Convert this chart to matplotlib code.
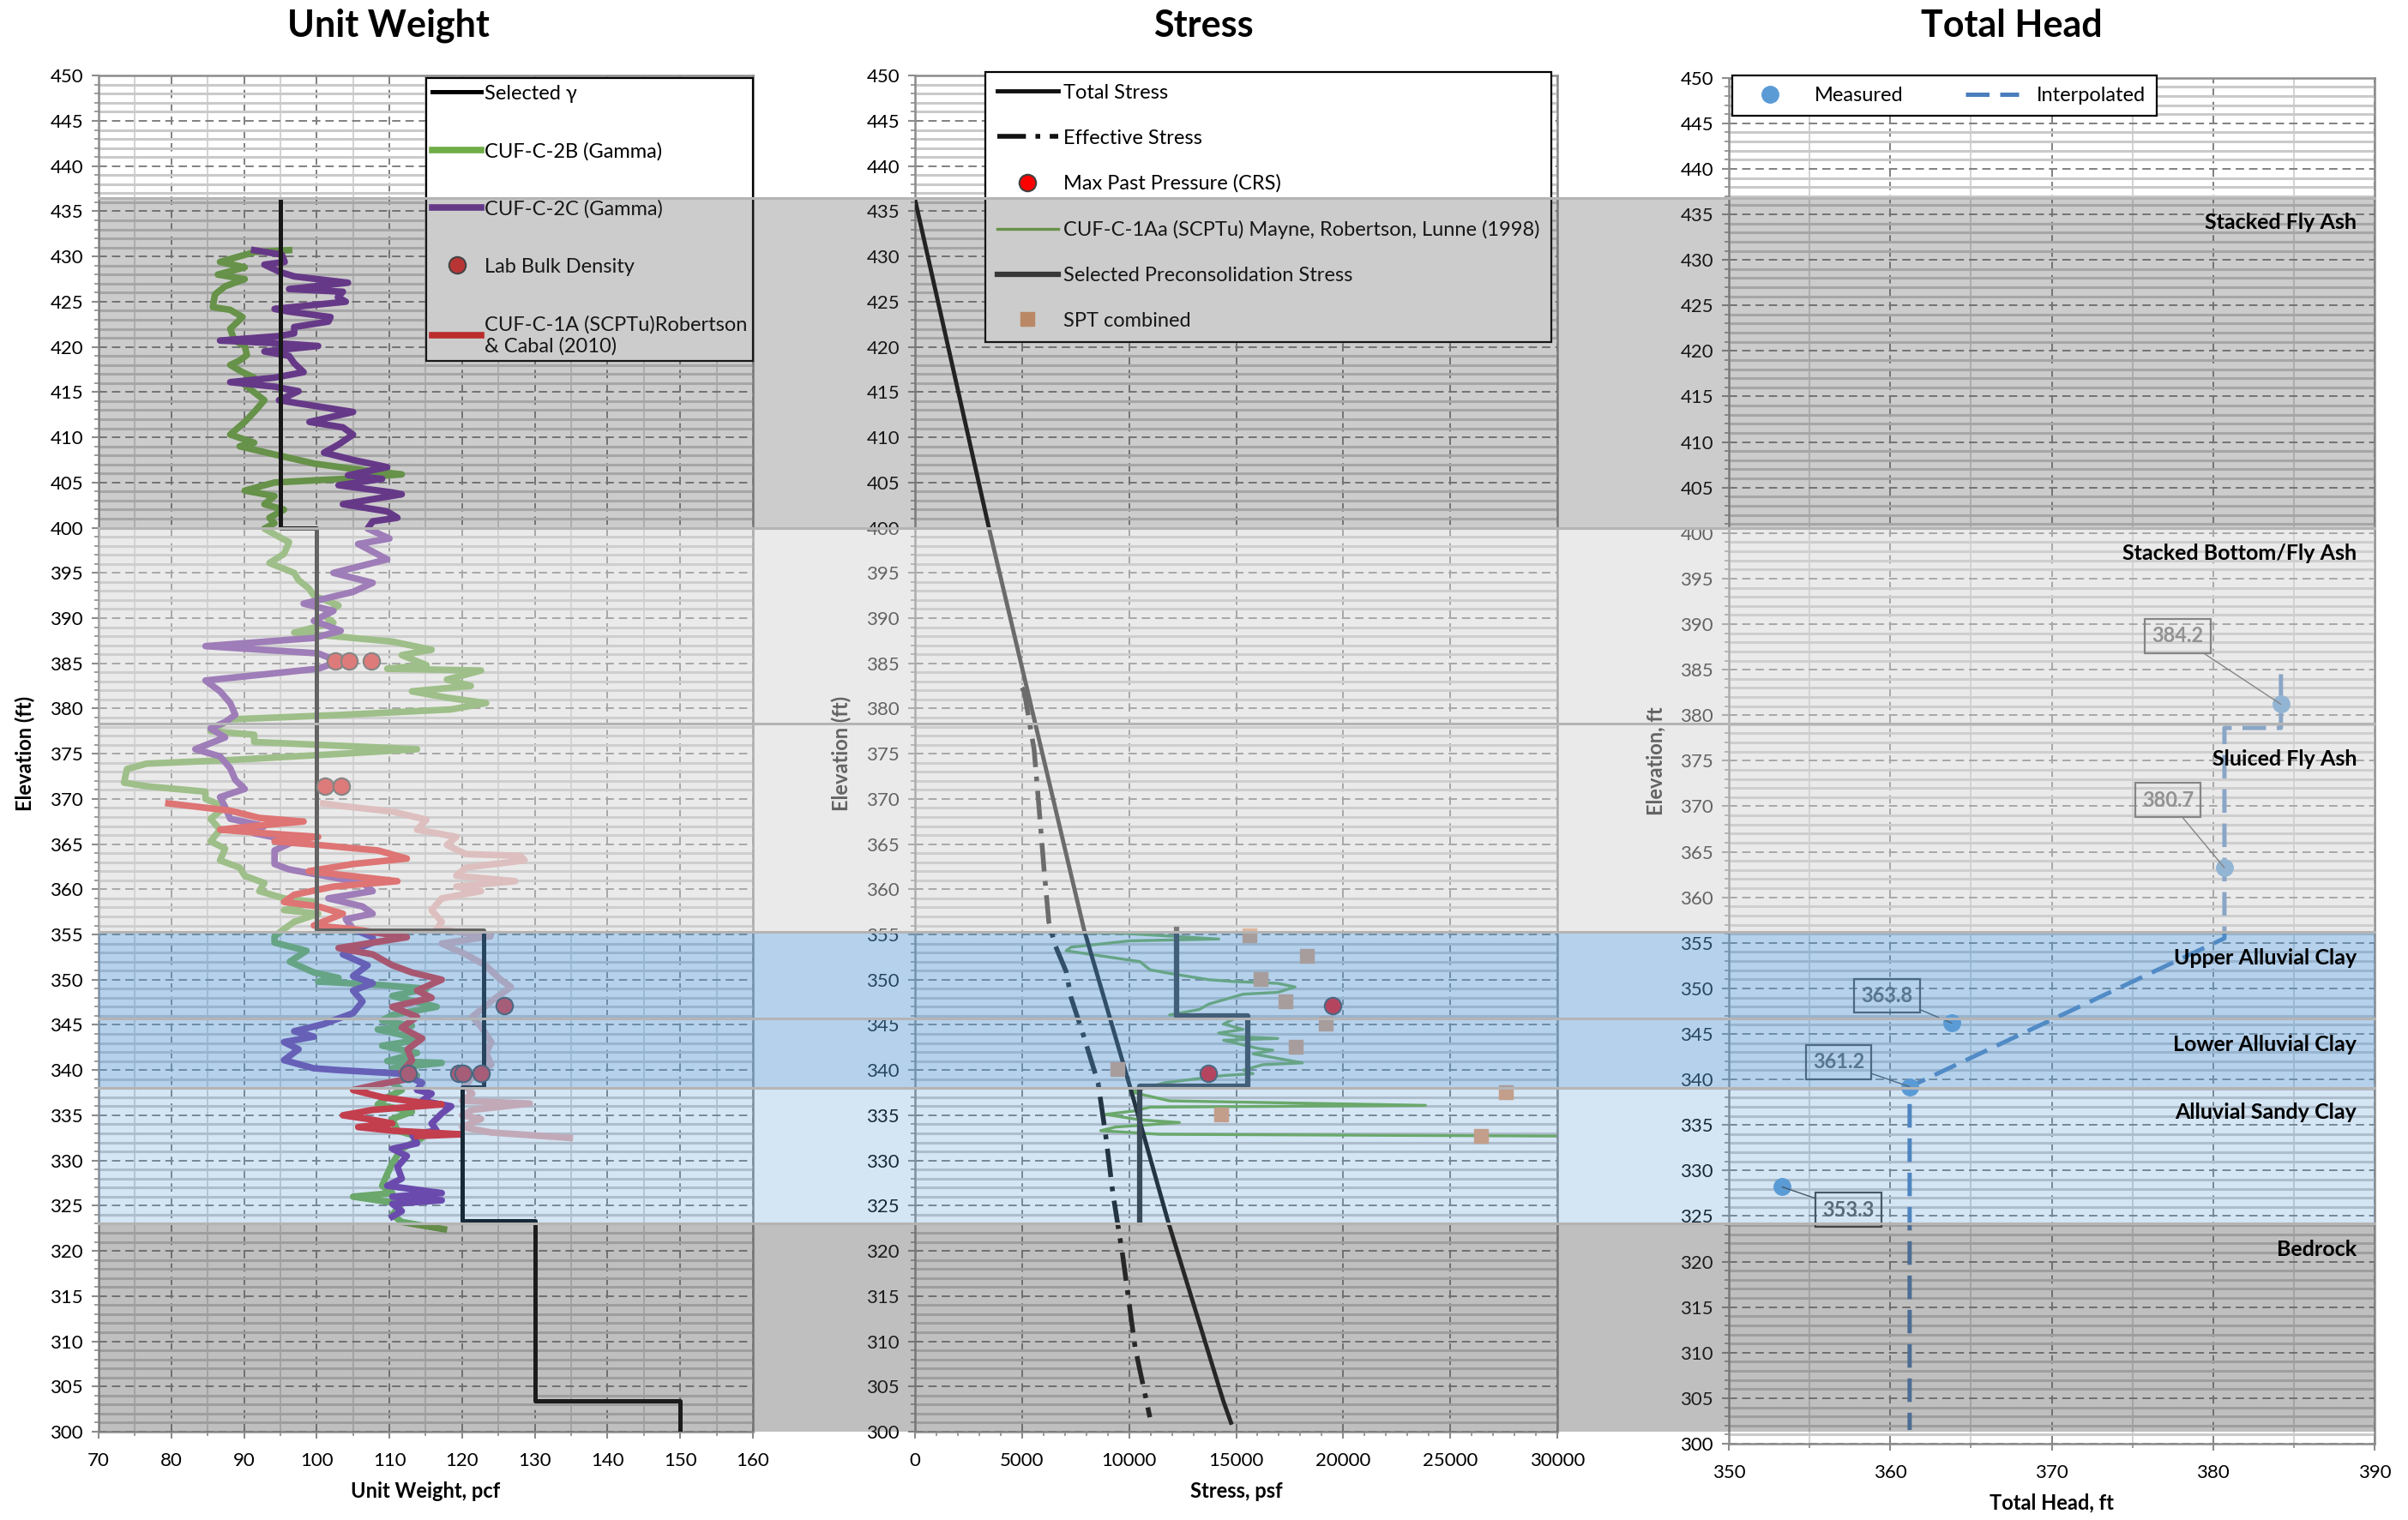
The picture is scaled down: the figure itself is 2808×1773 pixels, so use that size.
import matplotlib
matplotlib.use("Agg")
import matplotlib.pyplot as plt
import matplotlib.transforms as mtransforms
from matplotlib.patches import Rectangle
from matplotlib.lines import Line2D
from matplotlib.ticker import MultipleLocator

plt.rcParams['font.family'] = ['Lato', 'DejaVu Sans']

# %% data -------------------------------------------------------------------

### unit weight profiles (elevation ft, unit weight pcf)
g2b_elev = [430.7, 430.5, 429.4, 428.8, 428.0, 427.5, 426.7, 425.8, 424.4, 424.1, 423.3, 422.0,
            420.7, 420.1, 419.1, 418.5, 418.0, 417.2, 416.6, 415.8, 414.1, 412.8, 411.7, 410.3,
            409.4, 409.0, 408.1, 407.1, 406.5, 405.9, 405.4, 405.0, 404.1, 403.5, 402.6, 402.0,
            401.1, 400.5, 399.9, 399.0, 398.4, 397.1, 396.1, 395.0, 394.2, 393.3, 392.5, 391.4,
            390.3, 389.5, 388.4, 388.0, 387.4, 386.5, 385.9, 384.8, 384.4, 384.2, 383.2, 382.5,
            381.9, 381.2, 380.6, 379.9, 379.3, 378.8, 377.5, 377.1, 376.3, 375.5, 375.0, 374.3,
            373.9, 373.3, 371.8, 371.4, 370.8, 370.0, 369.1, 367.8, 366.6, 365.3, 364.5, 363.2,
            362.4, 361.5, 361.1, 360.7, 359.8, 359.0, 358.6, 357.7, 357.3, 356.4, 355.6, 354.8,
            354.1, 353.2, 352.0, 350.8, 350.2, 349.8, 349.4, 349.0, 348.2, 347.0, 346.1, 345.5,
            344.9, 344.5, 343.9, 343.3, 342.7, 341.9, 341.0, 340.8, 340.2, 339.4, 338.6, 337.8,
            337.0, 336.2, 335.4, 334.6, 333.3, 332.5, 331.3, 329.7, 328.5, 327.2, 326.4, 326.0,
            325.6, 325.2, 324.0, 323.2, 322.4]
g2b_pcf = [96.2, 91.5, 86.7, 90.1, 86.4, 90.1, 87.4, 86.0, 85.7, 88.1, 89.8, 88.1,
           88.7, 90.1, 90.4, 89.4, 88.1, 89.8, 91.4, 90.1, 92.8, 91.4, 90.1, 88.1,
           91.4, 89.4, 94.2, 99.6, 105.0, 111.7, 103.6, 94.2, 90.1, 94.2, 92.8, 95.5,
           93.5, 94.2, 92.8, 94.8, 96.2, 95.5, 93.5, 96.9, 97.5, 98.9, 99.6, 103.0,
           101.0, 102.3, 96.9, 102.3, 110.4, 115.8, 111.7, 115.1, 109.7, 122.6, 117.9, 121.2,
           113.1, 117.9, 123.3, 118.5, 103.6, 88.1, 85.4, 91.4, 91.4, 113.8, 103.6, 88.1,
           76.6, 73.9, 73.5, 76.6, 84.7, 84.7, 87.4, 85.4, 86.7, 85.4, 87.4, 86.7,
           89.4, 90.1, 91.4, 92.8, 92.1, 95.5, 99.6, 95.5, 100.2, 96.9, 95.5, 94.2,
           94.2, 98.6, 96.3, 99.6, 103.0, 100.2, 109.0, 115.1, 110.4, 116.5, 110.4, 109.0,
           113.1, 108.4, 111.7, 113.8, 109.0, 113.8, 109.7, 117.2, 110.4, 113.8, 110.4, 111.7,
           109.7, 108.4, 113.1, 110.4, 111.1, 114.5, 111.7, 110.4, 109.7, 109.0, 110.4, 105.0,
           108.4, 111.7, 110.4, 111.7, 117.5]

g2c_elev = [430.7, 430.2, 429.4, 429.1, 428.3, 427.8, 427.1, 426.4, 426.1, 425.5, 425.0, 424.2,
            423.9, 423.3, 422.8, 422.2, 421.5, 421.2, 420.7, 420.4, 420.1, 419.5, 419.0, 418.2,
            417.2, 416.6, 416.1, 415.6, 415.1, 414.1, 412.8, 411.7, 411.1, 410.3, 409.2, 408.3,
            407.5, 406.7, 405.8, 405.4, 404.7, 403.9, 403.7, 402.6, 401.8, 401.1, 400.7, 399.9,
            398.8, 398.2, 396.5, 395.0, 393.9, 392.9, 391.6, 390.8, 389.7, 388.6, 387.8, 386.9,
            386.1, 385.2, 384.4, 383.1, 381.9, 380.6, 379.3, 378.5, 377.8, 376.8, 375.5, 374.7,
            373.4, 372.1, 371.1, 370.2, 369.1, 367.8, 367.0, 366.2, 365.3, 364.3, 362.8, 362.2,
            361.5, 360.7, 359.8, 359.0, 358.1, 357.3, 356.7, 355.6, 354.7, 354.1, 352.8, 351.6,
            350.4, 349.6, 348.8, 347.6, 346.3, 345.5, 345.1, 344.3, 343.7, 343.1, 342.3, 341.1,
            340.2, 340.0, 339.6, 338.6, 337.8, 337.4, 336.6, 336.0, 335.2, 334.1, 333.3, 332.9,
            331.9, 331.3, 330.5, 329.3, 328.0, 327.2, 326.4, 326.0, 325.6, 325.2, 324.4, 323.8]
g2c_pcf = [91.4, 95.2, 95.6, 92.8, 94.9, 96.9, 104.3, 96.2, 103.6, 102.9, 104.0, 94.2,
           96.2, 101.9, 101.6, 96.9, 96.9, 94.8, 86.7, 94.8, 100.2, 92.8, 96.2, 96.9,
           98.2, 94.2, 88.1, 94.2, 97.5, 94.8, 105.0, 99.0, 103.6, 105.0, 103.0, 101.0,
           105.0, 109.7, 104.3, 109.0, 103.0, 110.4, 111.7, 103.6, 109.7, 111.1, 107.7, 107.0,
           110.0, 105.7, 109.7, 102.3, 107.7, 105.0, 98.2, 102.3, 99.6, 103.3, 99.6, 84.7,
           100.2, 103.0, 100.2, 84.7, 86.7, 88.1, 88.8, 87.4, 85.4, 87.4, 83.3, 86.7,
           88.1, 88.8, 90.1, 86.7, 87.4, 88.1, 92.8, 91.4, 96.9, 94.2, 94.2, 96.2,
           101.0, 106.3, 107.7, 101.6, 106.3, 107.7, 104.0, 105.0, 107.7, 107.7, 103.6, 107.0,
           105.0, 107.7, 105.0, 106.3, 105.0, 102.3, 101.0, 96.9, 99.6, 95.5, 97.5, 95.5,
           99.6, 103.0, 111.7, 114.5, 113.8, 115.8, 114.5, 118.5, 117.2, 115.8, 116.5, 113.1,
           113.8, 110.4, 112.4, 111.1, 111.7, 109.7, 117.2, 110.4, 117.2, 110.4, 111.7, 110.4]

rc_elev = [369.5, 368.7, 367.9, 367.5, 367.0, 366.6, 366.2, 365.8, 365.3, 364.9, 364.3, 363.4,
           362.8, 362.0, 360.9, 360.3, 359.4, 358.6, 358.1, 357.3, 356.0, 355.6, 354.7, 353.5,
           352.8, 351.6, 350.8, 350.0, 348.8, 348.0, 347.0, 345.9, 344.7, 343.5, 342.3, 341.1,
           339.8, 339.0, 338.4, 337.8, 337.0, 336.4, 336.2, 335.6, 335.0, 334.6, 334.1, 333.7,
           333.3, 332.9, 332.7]
rc_pcf = [79.6, 88.1, 92.1, 98.2, 91.4, 86.7, 92.8, 100.2, 94.2, 100.2, 108.4, 112.4,
          105.0, 98.9, 111.1, 102.3, 96.9, 95.5, 100.2, 103.6, 99.6, 105.0, 112.4, 103.0,
          107.7, 110.4, 113.1, 117.2, 113.8, 115.8, 110.4, 113.8, 111.7, 114.5, 112.5, 113.1,
          111.7, 112.4, 108.4, 105.0, 109.0, 114.5, 117.2, 107.7, 103.6, 107.0, 110.4, 105.7,
          110.4, 119.9, 113.8]

alt_elev = [369.5, 369.2, 368.6, 367.7, 366.6, 365.8, 364.9, 363.9, 363.7, 363.2, 362.4, 361.5,
            360.9, 360.3, 359.8, 359.0, 357.7, 356.4, 355.6, 354.8, 354.0, 352.8, 351.6, 350.0,
            349.2, 347.6, 345.9, 344.7, 343.1, 341.9, 340.6, 339.4, 338.2, 337.4, 336.6, 336.3,
            335.6, 335.0, 334.6, 333.7, 333.1, 332.5]
alt_pcf = [100.9, 103.6, 110.4, 115.1, 113.8, 119.2, 117.9, 120.5, 128.0, 128.6, 120.5, 119.2,
           127.3, 119.2, 122.6, 117.2, 115.8, 117.2, 116.5, 123.9, 117.2, 120.5, 123.2, 125.3,
           126.7, 124.0, 121.4, 122.7, 124.0, 123.3, 124.0, 121.4, 120.5, 121.4, 120.0, 129.3,
           121.4, 120.0, 122.6, 120.0, 124.0, 134.8]

sel_gamma_elev = [436.3, 400.0, 400.0, 355.5, 355.5, 338.1, 338.1, 323.3, 323.3, 303.4, 303.4, 300.0]
sel_gamma_pcf = [95, 95, 100, 100, 123, 123, 120, 120, 130, 130, 150, 150]

lab_elev = [385.3, 385.3, 385.3, 371.4, 371.4, 347.1, 339.6, 339.6, 339.6, 339.6]
lab_pcf = [102.6, 104.5, 107.5, 101.1, 103.4, 125.8, 112.6, 119.5, 120.1, 122.6]

### stress profiles (psf)
tot_elev = [436.3, 400.0, 355.5, 338.1, 323.3, 303.4, 301.0]
tot_psf = [0, 3450, 7900, 10050, 11815, 14400, 14760]

eff_elev = [382.3, 381.9, 375.5, 369.1, 362.4, 356.4, 353.9, 350.9, 348.0, 343.9, 338.6, 332.9,
            326.4, 319.5, 309.3, 301.6]
eff_psf = [4990, 5100, 5560, 5790, 6020, 6250, 6530, 7060, 7290, 7860, 8550, 8900,
           9240, 9700, 10280, 10970]

crs_elev = [347.1, 339.6]
crs_psf = [19500, 13700]

scptu_elev = [355.25, 355.15, 354.5, 354.3, 353.6, 353.2, 352.8, 352.0, 351.1, 350.7, 350.0, 349.8,
              349.6, 349.2, 348.6, 348.4, 347.3, 346.7, 346.1, 345.9, 345.1, 344.5, 344.1, 343.7,
              343.5, 343.3, 342.4, 342.2, 341.8, 340.8, 340.6, 340.0, 339.6, 339.4, 338.6, 338.0,
              337.6, 336.6, 336.1, 335.9, 335.5, 335.1, 334.5, 334.2, 333.7, 333.3, 332.9, 332.7]
scptu_psf = [6830, 9590, 14190, 10050, 7290, 7060, 8210, 10510, 10970, 11890, 13720, 14870,
             16940, 17750, 16940, 15330, 13720, 13270, 11890, 15100, 14410, 15330, 14180, 15100,
             16940, 14410, 16020, 16710, 15790, 18090, 16250, 15330, 15790, 14410, 11660, 10740,
             10050, 11890, 23840, 10970, 10280, 8900, 10510, 12350, 9360, 8670, 11430, 30500]

pc_elev = [355.6, 346.0, 346.0, 338.2, 338.2, 323.1]
pc_psf = [12200, 12200, 15550, 15550, 10500, 10500]

spt_elev = [354.9, 352.6, 350.1, 347.6, 345.1, 342.6, 340.1, 337.6, 335.1, 332.7]
spt_psf = [15630, 18300, 16140, 17290, 19200, 17790, 9470, 27590, 14300, 26420]

### total head (ft)
meas_elev = [381.2, 363.25, 346.2, 339.2, 328.2]
meas_head = [384.2, 380.7, 363.8, 361.2, 353.3]
interp_elev = [384.5, 378.6, 378.6, 355.5, 339.2, 301.5]
interp_head = [384.2, 384.2, 380.7, 380.7, 361.2, 361.2]

### stratigraphy
layer_names = ["Stacked Fly Ash", "Stacked Bottom/Fly Ash", "Sluiced Fly Ash",
               "Upper Alluvial Clay", "Lower Alluvial Clay", "Alluvial Sandy Clay", "Bedrock"]
layer_top = [436.5, 400.0, 378.3, 355.3, 345.7, 338.0, 323.0]
layer_bot = [400.0, 378.3, 355.3, 345.7, 338.0, 323.0, 300.0]

# %% figure ----------------------------------------------------------------
fig = plt.figure(figsize=(28.08, 17.73), dpi=100)
ax1 = fig.add_axes([0.04095, 0.05809, 0.27173, 0.89211])
ax2 = fig.add_axes([0.37999, 0.05809, 0.26673, 0.89211])
ax3 = fig.add_axes([0.71795, 0.05020, 0.26816, 0.89864])

GRID_DASH = (0, (5, 3))
LEG_FS = 17


def style_axes(ax, xlim, xmaj, xmin, xgrid_minor=True):
    ax.set_xlim(*xlim)
    ax.set_ylim(300, 450)
    ax.yaxis.set_major_locator(MultipleLocator(5))
    ax.yaxis.set_minor_locator(MultipleLocator(1))
    ax.xaxis.set_major_locator(MultipleLocator(xmaj))
    ax.xaxis.set_minor_locator(MultipleLocator(xmin))
    ax.set_axisbelow(True)
    ax.grid(which='major', axis='both', color='#808080', lw=1.4, ls=GRID_DASH)
    ax.grid(which='minor', axis='y', color='#CACACA', lw=2.2, ls='-')
    if xgrid_minor:
        ax.grid(which='minor', axis='x', color='#D2D2D2', lw=1.4, ls='-')
    for s in ax.spines.values():
        s.set_color('#8C8C8C')
        s.set_linewidth(1.8)
    ax.tick_params(which='major', direction='out', length=6, width=1.5, color='#8C8C8C',
                   labelsize=16)
    ax.tick_params(which='minor', direction='out', length=3.5, width=1.2, color='#8C8C8C')
    ax.tick_params(axis='x', which='major', pad=11)
    ax.tick_params(axis='y', which='major', pad=7)


style_axes(ax1, (70, 160), 10, 5)
style_axes(ax2, (0, 30000), 5000, 1000, xgrid_minor=False)
style_axes(ax3, (350, 390), 10, 5)

lab_kw = dict(fontsize=17, fontweight='bold')
ax1.set_xlabel("Unit Weight, pcf", labelpad=10, **lab_kw)
ax2.set_xlabel("Stress, psf", labelpad=10, **lab_kw)
ax3.set_xlabel("Total Head, ft", labelpad=10, **lab_kw)
ax1.set_ylabel("Elevation (ft)", labelpad=12, **lab_kw)
ax2.set_ylabel("Elevation (ft)", labelpad=12, **lab_kw)
ax3.set_ylabel("Elevation, ft", labelpad=12, **lab_kw)

# %% unit weight panel
ax1.plot(g2b_pcf, g2b_elev, color='#70AD47', lw=5.5, zorder=2, label="CUF-C-2B (Gamma)")
ax1.plot(g2c_pcf, g2c_elev, color='#7030A0', lw=5.5, zorder=2.1, label="CUF-C-2C (Gamma)")
ax1.plot(alt_pcf, alt_elev, color='#E6AEAD', lw=5.5, zorder=2, label='_nolegend_')
ax1.plot(rc_pcf, rc_elev, color='#E82020', lw=5.5, zorder=2.2,
         label="CUF-C-1A (SCPTu)Robertson\n& Cabal (2010)")
ax1.plot(sel_gamma_pcf, sel_gamma_elev, color='black', lw=3.6, zorder=3, label="Selected γ")
ax1.plot(lab_pcf, lab_elev, ls='none', marker='o', ms=14, mfc='#E52B2B', mec='#404040',
         mew=1.5, zorder=4, label="Lab Bulk Density")

h1, l1 = ax1.get_legend_handles_labels()
order1 = ["Selected γ", "CUF-C-2B (Gamma)", "CUF-C-2C (Gamma)", "Lab Bulk Density",
          "CUF-C-1A (SCPTu)Robertson\n& Cabal (2010)"]
hd1 = dict(zip(l1, h1))
leg1 = ax1.legend([hd1[k] for k in order1], order1, loc='upper right',
                  bbox_to_anchor=(1.0, 0.998), borderaxespad=0, fontsize=LEG_FS,
                  labelspacing=1.95, borderpad=0.3, handlelength=2.4, handletextpad=0.15,
                  fancybox=False, framealpha=1, edgecolor='black')
leg1.get_frame().set_linewidth(1.6)

# %% stress panel
EFF_DASH = (0, (6, 2, 1, 2))
ax2.plot(tot_psf, tot_elev, color='#111111', lw=3.5, zorder=3, label="Total Stress")
ax2.plot(eff_psf, eff_elev, color='#111111', lw=4, ls=EFF_DASH, zorder=3,
         label="Effective Stress")
ax2.plot(crs_psf, crs_elev, ls='none', marker='o', ms=14, mfc='#FF0000', mec='#404040',
         mew=1.5, zorder=5, label="Max Past Pressure (CRS)")
ax2.plot(scptu_psf, scptu_elev, color='#70AD47', lw=2.4, zorder=2,
         label="CUF-C-1Aa (SCPTu) Mayne, Robertson, Lunne (1998)")
ax2.plot(pc_psf, pc_elev, color='#2F2F2F', lw=4.5, zorder=4,
         label="Selected Preconsolidation Stress")
ax2.plot(spt_psf, spt_elev, ls='none', marker='s', ms=11, mfc='#E8A070', mec='#E8A070',
         zorder=4, label="SPT combined")
leg2 = ax2.legend(loc='upper right', bbox_to_anchor=(0.991, 1.003), borderaxespad=0,
                  fontsize=LEG_FS, labelspacing=1.35, borderpad=0.6, handlelength=3.0,
                  handletextpad=0.25, fancybox=False, framealpha=1, edgecolor='black')
leg2.get_frame().set_linewidth(1.6)

# %% total head panel
ax3.plot(interp_head, interp_elev, color='#4A7EBB', lw=3.6, ls=(0, (5.5, 2.5)), zorder=3,
         label="Interpolated")
ax3.plot(meas_head, meas_elev, ls='none', marker='o', ms=14, mfc='#5B9BD5', mec='#5B9BD5',
         zorder=4, label="Measured")
h3, l3 = ax3.get_legend_handles_labels()
leg3 = ax3.legend(h3[::-1], l3[::-1], ncol=2, mode='expand', loc='upper left',
                  bbox_to_anchor=(0.0053, 0.0, 0.6574, 1.0015), borderaxespad=0,
                  fontsize=LEG_FS, borderpad=0.55, handlelength=2.6, handletextpad=0.9,
                  columnspacing=1.5, fancybox=False, framealpha=1, edgecolor='black')
leg3.get_frame().set_linewidth(1.6)

# data label boxes (head, elev) for each measured point
label_pos = [(377.8, 388.7), (377.2, 370.7), (359.8, 349.2), (356.8, 341.9), (357.4, 325.7)]
for h, e, pos in zip(meas_head, meas_elev, label_pos):
    ax3.annotate(f"{h:.1f}", xy=(h, e), xytext=pos, ha='center', va='center',
                 fontsize=17, fontweight='bold', color='#595959', zorder=5,
                 bbox=dict(boxstyle='square,pad=0.35', fc='none', ec='#404040', lw=1.6),
                 arrowprops=dict(arrowstyle='-', color='#404040', lw=1.0,
                                 shrinkA=0, shrinkB=0))

# %% stratigraphy overlay across all three panels
x_left, x_right = 0.04095, 0.98611
band = mtransforms.blended_transform_factory(fig.transFigure, ax1.transData)
layer_fill = [('#505050', 0.29), ('#D4D4D4', 0.47), ('#D4D4D4', 0.47),
              ('#5B9BD5', 0.45), ('#5B9BD5', 0.45), ('#5B9BD5', 0.26), ('#505050', 0.36)]
for top, bot, (fc, a) in zip(layer_top, layer_bot, layer_fill):
    fig.add_artist(Rectangle((x_left, bot), x_right - x_left, top - bot, transform=band,
                             facecolor=fc, alpha=a, edgecolor='none', zorder=5))
for top in layer_top:
    fig.add_artist(Line2D([x_left, x_right], [top, top], transform=band, color='#B4B4B4',
                          lw=2.2, zorder=6))

name_elev = [433.8, 397.2, 374.4, 352.4, 342.8, 335.3, 320.2]
for name, y in zip(layer_names, name_elev):
    fig.text(2748 / 2808, y, name, transform=band, ha='right', va='center', fontsize=18,
             fontweight='bold', color='black', zorder=7)

# %% panel titles
title_kw = dict(fontsize=31, fontweight='bold', ha='center', va='baseline')
fig.text(453 / 2808, 1 - 43 / 1773, "Unit Weight", **title_kw)
fig.text(1403 / 2808, 1 - 43 / 1773, "Stress", **title_kw)
fig.text(2346 / 2808, 1 - 43 / 1773, "Total Head", **title_kw)

fig.savefig("out.png", dpi=100)
